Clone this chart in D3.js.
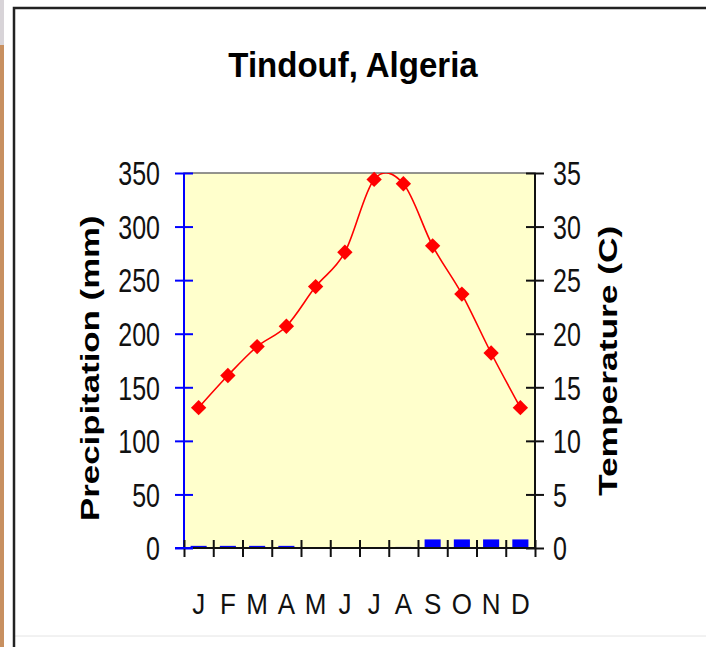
<!DOCTYPE html>
<html>
<head>
  <title>Tindouf climate</title>
<script src="https://d3js.org/d3.v7.min.js"></script>
<style>
  body { margin: 0; background: #fff; }
  text { font-family: "Liberation Sans", Arial, sans-serif; }
</style>
</head>
<body>
<div id="chart"></div>

<script>
  // climate data
  var months = ["J", "F", "M", "A", "M", "J", "J", "A", "S", "O", "N", "D"]
  var temperature = [13.1, 16.1, 18.8, 20.7, 24.4, 27.6, 34.4, 34.0, 28.2, 23.7, 18.2, 13.1]
  var precipitation = [2, 2, 2, 2, 0, 0, 0, 1, 8, 8, 8, 8]
  var precipTicks = [0, 50, 100, 150, 200, 250, 300, 350]
  var tempTicks = [0, 5, 10, 15, 20, 25, 30, 35]

  var width = 706, height = 647
  var plot = {left: 184, right: 535, top: 173, bottom: 548}

  var svg = d3.select("#chart")
    .append("svg")
    .attr("width", width)
    .attr("height", height)

  // bit of the page behind the chart
  svg.append("rect").attr("x", 0).attr("y", 0).attr("width", 4).attr("height", height).attr("fill", "#c89060")
  svg.append("rect").attr("x", 0).attr("y", 0).attr("width", 4).attr("height", 45).attr("fill", "#d8d4d8")
  svg.append("line").attr("x1", 14).attr("x2", width).attr("y1", 636).attr("y2", 636)
    .attr("stroke", "#e4e4e4").attr("stroke-width", 1)
  svg.append("path").attr("d", "M14," + height + "V8H" + width)
    .attr("fill", "none").attr("stroke", "#222").attr("stroke-width", 2.5)

  var x = d3.scaleBand()
    .domain(d3.range(months.length))
    .range([plot.left, plot.right])

  var xEdge = d3.scaleLinear()
    .domain([0, months.length])
    .range([plot.left, plot.right])

  var yP = d3.scaleLinear().domain([0, 350]).range([plot.bottom, plot.top])
  var yT = d3.scaleLinear().domain([0, 35]).range([plot.bottom, plot.top])

  svg.append("rect")
    .attr("x", plot.left).attr("y", plot.top)
    .attr("width", plot.right - plot.left).attr("height", plot.bottom - plot.top)
    .attr("fill", "#ffffcc")
    .attr("stroke", "#707070")
    .attr("stroke-width", 1.5)

  svg.append("clipPath").attr("id", "clip")
    .append("rect")
    .attr("x", plot.left).attr("y", plot.top)
    .attr("width", plot.right - plot.left).attr("height", plot.bottom - plot.top)

  // precipitation bars
  var barW = x.bandwidth() * 0.55
  svg.selectAll('.bar')
    .data(precipitation)
    .enter()
    .append('rect')
    .attr('class', 'bar')
    .attr('x', function(d, i) { return x(i) + (x.bandwidth() - barW) / 2 })
    .attr('y', function(d) { return yP(d) })
    .attr('width', barW)
    .attr('height', function(d) { return plot.bottom - yP(d) })
    .attr('fill', '#0000ff')

  // temperature line
  var line = d3.line()
    .x(function(d, i) { return x(i) + x.bandwidth() / 2 })
    .y(function(d) { return yT(d) })
    .curve(d3.curveCardinal.tension(0))

  svg.append('path')
    .datum(temperature)
    .attr('clip-path', 'url(#clip)')
    .attr('d', line)
    .attr('fill', 'none')
    .attr('stroke', '#ff0000')
    .attr('stroke-width', 1.6)

  svg.selectAll('.marker')
    .data(temperature)
    .enter()
    .append('path')
    .attr('class', 'marker')
    .attr('d', d3.symbol().type(d3.symbolDiamond2).size(150))
    .attr('transform', function(d, i) { return 'translate(' + (x(i) + x.bandwidth() / 2) + ',' + yT(d) + ')' })
    .attr('fill', '#ff0000')

  // left axis (blue)
  var left = svg.append("g")
    .attr("transform", "translate(" + plot.left + ",0)")
    .call(d3.axisLeft(yP).tickValues(precipTicks).tickSize(9).tickPadding(15))
  left.select(".domain").remove()
  left.append("line").attr("y1", plot.top).attr("y2", plot.bottom).attr("stroke", "#0000ff").attr("stroke-width", 2)
  left.selectAll(".tick line").attr("x1", 9).attr("stroke", "#0000ff").attr("stroke-width", 2)
  left.selectAll(".tick text")
    .attr("fill", "#111")
    .style("font-size", "25px")
    .attr("dy", "0.36em")
    .attr("transform", "scale(1,1.3)")

  // right axis
  var right = svg.append("g")
    .attr("transform", "translate(" + plot.right + ",0)")
    .call(d3.axisRight(yT).tickValues(tempTicks).tickSize(9).tickPadding(9))
  right.select(".domain").remove()
  right.append("line").attr("y1", plot.top).attr("y2", plot.bottom).attr("stroke", "#111").attr("stroke-width", 2)
  right.selectAll(".tick line").attr("x1", -9).attr("stroke", "#111").attr("stroke-width", 2)
  right.selectAll(".tick text")
    .attr("fill", "#111")
    .style("font-size", "25px")
    .attr("dy", "0.36em")
    .attr("transform", "scale(1,1.3)")

  // bottom axis: month edge ticks + letters
  var bottom = svg.append("g")
    .attr("transform", "translate(0," + plot.bottom + ")")
    .call(d3.axisBottom(xEdge).ticks(12).tickSize(9).tickFormat(""))
  bottom.select(".domain").remove()
  bottom.append("line").attr("x1", plot.left).attr("x2", plot.right).attr("stroke", "#111").attr("stroke-width", 2)
  bottom.selectAll(".tick line").attr("y1", -8).attr("stroke", "#111").attr("stroke-width", 2)
  // redraw blue zero tick on top of the black line
  svg.append("line").attr("x1", plot.left - 9).attr("x2", plot.left + 9)
    .attr("y1", plot.bottom).attr("y2", plot.bottom).attr("stroke", "#0000ff").attr("stroke-width", 2)

  var labels = svg.append("g")
    .attr("transform", "translate(0," + plot.bottom + ")")
    .call(d3.axisBottom(x).tickSize(0).tickFormat(function(i) { return months[i] }))
  labels.select(".domain").remove()
  labels.selectAll(".tick text")
    .attr("fill", "#111")
    .style("font-size", "26px")
    .attr("y", 58)
    .attr("dy", "0")
    .attr("transform", "scale(1,1.14)")

  // titles
  svg.append("text")
    .attr("transform", "translate(353,77) scale(1,1.06)")
    .attr("text-anchor", "middle")
    .style("font-size", "33px")
    .style("font-weight", "bold")
    .attr("fill", "#000")
    .text("Tindouf, Algeria")

  svg.append("text")
    .attr("transform", "translate(99,521) rotate(-90) scale(1.34,1)")
    .attr("text-anchor", "start")
    .style("font-size", "26px")
    .style("font-weight", "bold")
    .attr("fill", "#000")
    .text("Precipitation (mm)")

  svg.append("text")
    .attr("transform", "translate(617,496) rotate(-90) scale(1.36,1)")
    .attr("text-anchor", "start")
    .style("font-size", "26px")
    .style("font-weight", "bold")
    .attr("fill", "#000")
    .text("Temperature (C)")
</script>
</body>
</html>
